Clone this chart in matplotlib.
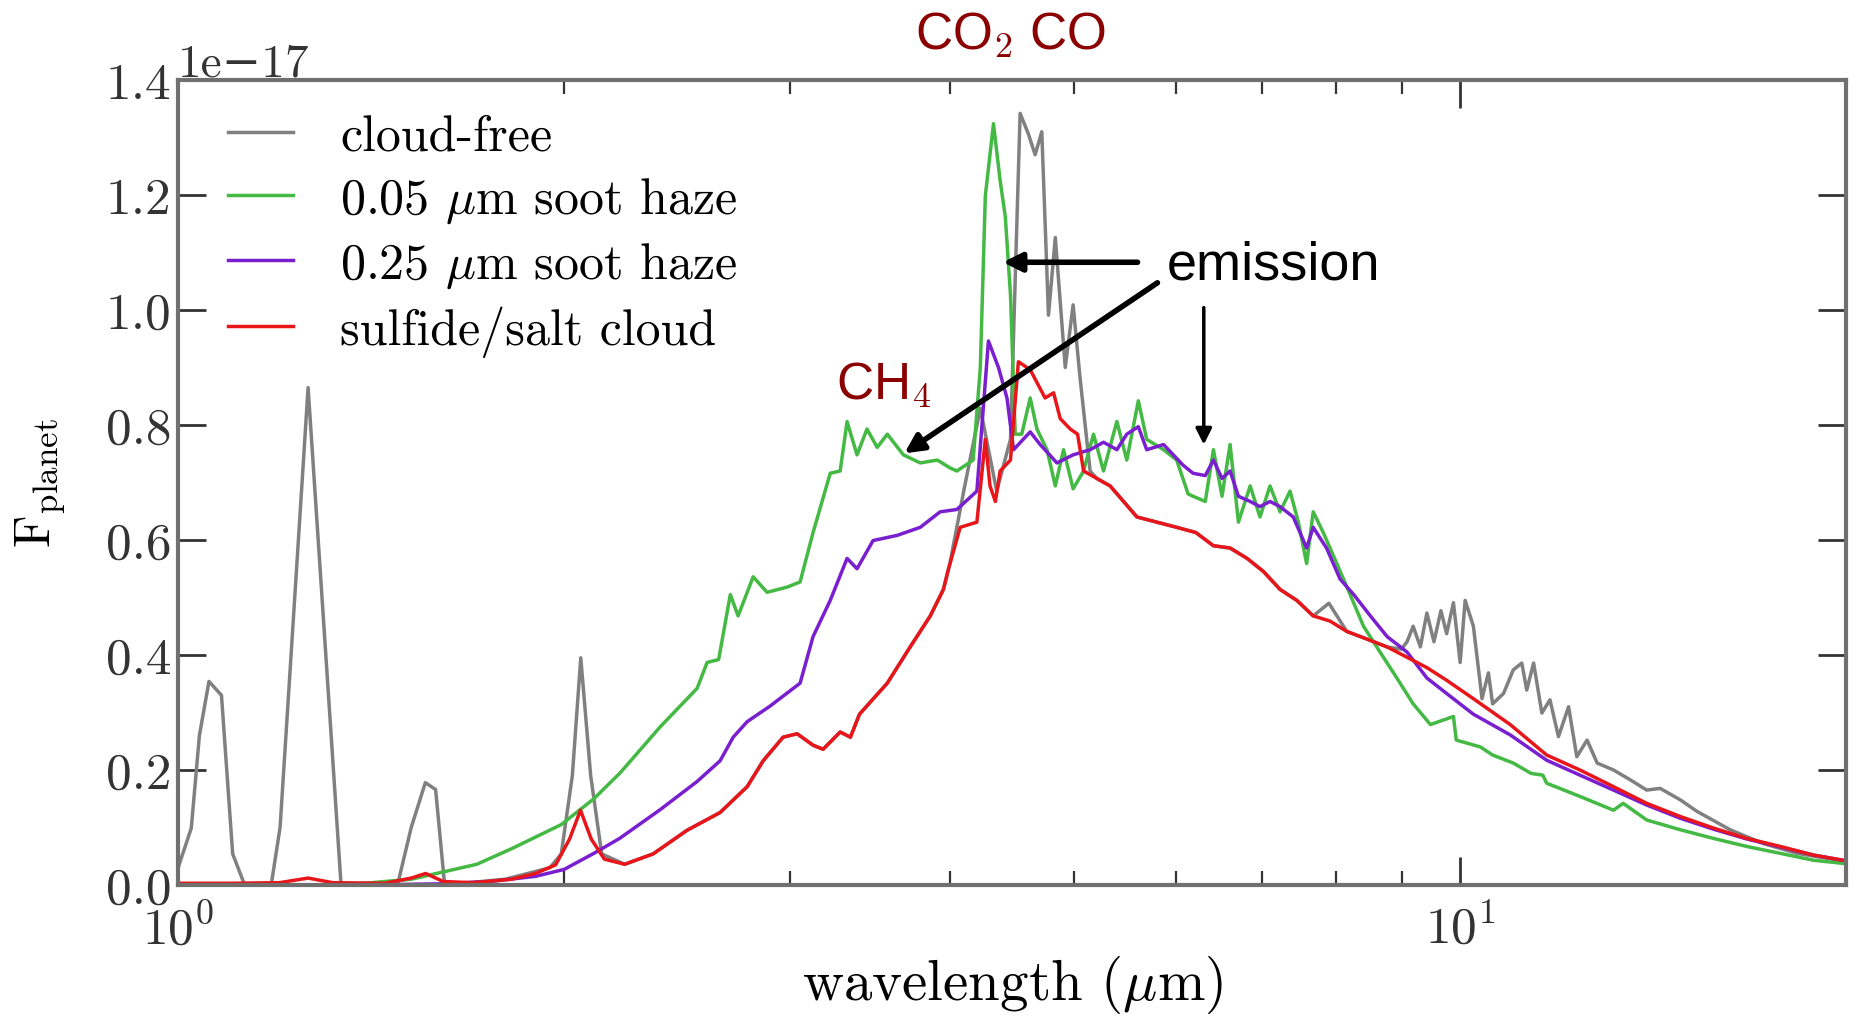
import numpy as np
import matplotlib
matplotlib.use("Agg")
import matplotlib.pyplot as plt
from matplotlib.ticker import NullFormatter

plt.rcParams["font.family"] = ["cmr10", "DejaVu Serif"]
plt.rcParams["mathtext.fontset"] = "cm"

# spectra, flux in units of 1e-17
wl_clear = [1.0, 1.024, 1.039, 1.057, 1.081, 1.103, 1.127, 1.182, 1.201, 1.263,
            1.340, 1.483, 1.520, 1.559, 1.588, 1.614, 1.80, 1.95, 1.99, 2.03,
            2.061, 2.098, 2.14, 2.23, 2.347, 2.494, 2.647, 2.779, 2.86, 2.964,
            3.04, 3.128, 3.185, 3.284, 3.345, 3.40, 3.574, 3.724, 3.861, 3.953,
            4.0, 4.10, 4.224, 4.35, 4.459, 4.537, 4.605, 4.661, 4.717, 4.774,
            4.833, 4.92, 4.99, 5.052, 5.145, 5.207, 5.333, 5.463, 5.596, 5.80,
            6.01, 6.22, 6.42, 6.615, 6.82, 7.025, 7.236, 7.457, 7.68, 7.9,
            8.157, 8.45, 8.77, 9.0, 9.09, 9.19, 9.31, 9.42, 9.54, 9.66,
            9.76, 9.88, 10.0, 10.09, 10.24, 10.4, 10.52, 10.6, 10.81, 11.0,
            11.17, 11.27, 11.41, 11.58, 11.75, 11.93, 12.15, 12.33, 12.56, 12.79,
            13.17, 13.57, 13.98, 14.32, 14.85, 15.30, 16.24, 17.24, 18.31, 20.0]
f_clear = [0.03, 0.099, 0.26, 0.354, 0.33, 0.054, 0.0, 0.0, 0.10, 0.865,
           0.0, 0.0, 0.10, 0.178, 0.166, 0.0, 0.01, 0.03, 0.054, 0.19,
           0.395, 0.19, 0.054, 0.036, 0.054, 0.095, 0.126, 0.171, 0.216, 0.257,
           0.263, 0.243, 0.236, 0.266, 0.257, 0.297, 0.351, 0.414, 0.468, 0.514,
           0.56, 0.685, 0.829, 0.685, 0.775, 1.342, 1.306, 1.27, 1.31, 0.991,
           1.126, 0.90, 1.009, 0.883, 0.72, 0.707, 0.694, 0.667, 0.64, 0.631,
           0.622, 0.613, 0.59, 0.586, 0.568, 0.545, 0.514, 0.495, 0.468, 0.49,
           0.441, 0.428, 0.414, 0.41, 0.423, 0.45, 0.414, 0.473, 0.423, 0.477,
           0.437, 0.491, 0.387, 0.495, 0.45, 0.324, 0.369, 0.315, 0.333, 0.374,
           0.386, 0.339, 0.386, 0.299, 0.322, 0.258, 0.31, 0.223, 0.252, 0.212,
           0.20, 0.183, 0.165, 0.168, 0.148, 0.128, 0.096, 0.072, 0.055, 0.041]

wl_soot05 = [1.0, 1.35, 1.52, 1.71, 1.82, 1.99, 2.11, 2.212, 2.377, 2.54,
             2.586, 2.64, 2.696, 2.734, 2.809, 2.88, 2.985, 3.056, 3.128, 3.226,
             3.284, 3.325, 3.385, 3.446, 3.51, 3.574, 3.679, 3.792, 3.91, 4.003,
             4.05, 4.17, 4.224, 4.262, 4.325, 4.377, 4.418, 4.459, 4.497, 4.55,
             4.62, 4.676, 4.761, 4.833, 4.905, 4.99, 5.085, 5.176, 5.27, 5.398,
             5.495, 5.61, 5.695, 5.87, 6.01, 6.135, 6.19, 6.327, 6.42, 6.52,
             6.615, 6.715, 6.858, 6.98, 7.107, 7.236, 7.367, 7.478, 7.59, 7.68,
             7.82, 8.013, 8.207, 8.406, 8.66, 8.925, 9.19, 9.48, 9.88, 9.93,
             10.37, 10.6, 11.0, 11.36, 11.6, 11.68, 12.4, 13.17, 13.4, 13.98,
             14.85, 15.76, 16.73, 17.77, 18.86, 20.0]
f_soot05 = [0.0, 0.0, 0.01, 0.036, 0.063, 0.105, 0.15, 0.195, 0.275, 0.342,
            0.387, 0.392, 0.505, 0.468, 0.536, 0.509, 0.518, 0.527, 0.613, 0.716,
            0.72, 0.806, 0.748, 0.793, 0.761, 0.784, 0.748, 0.734, 0.739, 0.725,
            0.72, 0.739, 0.90, 1.198, 1.324, 1.225, 1.162, 1.027, 0.784, 0.784,
            0.847, 0.793, 0.757, 0.694, 0.757, 0.689, 0.72, 0.784, 0.72, 0.806,
            0.739, 0.842, 0.775, 0.757, 0.739, 0.68, 0.676, 0.667, 0.757, 0.676,
            0.766, 0.631, 0.694, 0.64, 0.694, 0.649, 0.685, 0.631, 0.559, 0.649,
            0.613, 0.559, 0.505, 0.45, 0.405, 0.36, 0.315, 0.279, 0.293, 0.252,
            0.24, 0.226, 0.212, 0.194, 0.191, 0.177, 0.154, 0.13, 0.142, 0.113,
            0.096, 0.081, 0.067, 0.055, 0.043, 0.037]

wl_soot25 = [1.0, 1.4, 1.6, 1.75, 1.90, 2.0, 2.11, 2.21, 2.377, 2.54,
             2.647, 2.71, 2.779, 2.895, 3.056, 3.128, 3.226, 3.325, 3.385, 3.484,
             3.638, 3.792, 3.93, 4.05, 4.198, 4.286, 4.364, 4.431, 4.484, 4.562,
             4.62, 4.703, 4.847, 4.99, 5.145, 5.27, 5.398, 5.495, 5.61, 5.695,
             5.87, 6.08, 6.19, 6.327, 6.42, 6.52, 6.615, 6.715, 6.858, 6.98,
             7.107, 7.236, 7.41, 7.59, 7.68, 7.866, 8.06, 8.26, 8.51, 8.77,
             9.09, 9.42, 9.76, 10.24, 10.94, 11.68, 12.4, 13.17, 13.98, 14.85,
             15.76, 16.73, 17.77, 18.86, 20.0]
f_soot25 = [0.0, 0.0, 0.002, 0.006, 0.015, 0.027, 0.055, 0.081, 0.131, 0.18,
            0.216, 0.257, 0.284, 0.311, 0.351, 0.432, 0.495, 0.568, 0.55, 0.599,
            0.608, 0.622, 0.649, 0.653, 0.685, 0.946, 0.90, 0.847, 0.757, 0.775,
            0.788, 0.766, 0.734, 0.748, 0.757, 0.77, 0.757, 0.784, 0.797, 0.757,
            0.766, 0.73, 0.716, 0.712, 0.739, 0.707, 0.72, 0.676, 0.667, 0.658,
            0.667, 0.658, 0.64, 0.586, 0.622, 0.586, 0.532, 0.505, 0.468, 0.432,
            0.405, 0.36, 0.333, 0.297, 0.261, 0.217, 0.191, 0.165, 0.139, 0.116,
            0.097, 0.080, 0.066, 0.052, 0.042]

wl_salt = [1.0, 1.1, 1.2, 1.263, 1.32, 1.45, 1.52, 1.56, 1.61, 1.7,
           1.82, 1.9, 1.97, 2.02, 2.06, 2.10, 2.15, 2.23, 2.347, 2.494,
           2.647, 2.779, 2.86, 2.964, 3.04, 3.128, 3.185, 3.284, 3.345, 3.40,
           3.574, 3.724, 3.861, 3.953, 3.99, 4.074, 4.198, 4.262, 4.298, 4.34,
           4.377, 4.459, 4.523, 4.62, 4.676, 4.745, 4.818, 4.876, 4.964, 5.03,
           5.085, 5.207, 5.333, 5.463, 5.596, 5.80, 6.01, 6.22, 6.42, 6.615,
           6.82, 7.025, 7.236, 7.457, 7.68, 7.915, 8.157, 8.45, 8.77, 9.09,
           9.42, 9.76, 10.24, 10.94, 11.68, 12.4, 13.17, 13.98, 14.85, 15.76,
           16.73, 17.77, 18.86, 20.0]
f_salt = [0.003, 0.003, 0.004, 0.012, 0.004, 0.003, 0.012, 0.02, 0.006, 0.004,
          0.01, 0.02, 0.035, 0.08, 0.13, 0.08, 0.045, 0.036, 0.054, 0.095,
          0.126, 0.171, 0.216, 0.257, 0.263, 0.243, 0.236, 0.266, 0.257, 0.297,
          0.351, 0.414, 0.468, 0.514, 0.55, 0.622, 0.631, 0.775, 0.694, 0.667,
          0.72, 0.739, 0.91, 0.896, 0.874, 0.847, 0.856, 0.811, 0.793, 0.784,
          0.72, 0.707, 0.694, 0.667, 0.64, 0.631, 0.622, 0.613, 0.59, 0.586,
          0.568, 0.545, 0.514, 0.495, 0.468, 0.459, 0.441, 0.428, 0.414, 0.396,
          0.378, 0.356, 0.324, 0.279, 0.226, 0.20, 0.171, 0.142, 0.119, 0.099,
          0.081, 0.067, 0.052, 0.042]

labels = ["cloud-free", r"0.05 $\mu$m soot haze", r"0.25 $\mu$m soot haze", "sulfide/salt cloud"]
colors = ["#808080", "#44b944", "#7a1fd0", "#e8161b"]
scale = 1e-17

fig = plt.figure(figsize=(18.61, 10.20), dpi=100)
ax = fig.add_axes([0.0957, 0.1314, 0.8963, 0.7892])

series = [(wl_clear, f_clear), (wl_soot05, f_soot05), (wl_soot25, f_soot25), (wl_salt, f_salt)]
for (wl, fl), lab, col in zip(series, labels, colors):
    ax.plot(wl, np.array(fl) * scale, color=col, lw=2.5, label=lab)

ax.set_xscale("log")
ax.set_xlim(1, 20)
ax.set_ylim(0, 1.4e-17)
ax.xaxis.set_minor_formatter(NullFormatter())

for sp in ax.spines.values():
    sp.set_color("#707070")
    sp.set_linewidth(3)
ax.tick_params(which="both", direction="in", top=True, right=True, colors="#333333", labelsize=37)
ax.tick_params(which="major", length=20, width=2)
ax.tick_params(which="minor", length=10, width=1.6)
ax.tick_params(axis="y", which="major", pad=5)
ax.tick_params(axis="x", which="major", pad=13)
ax.yaxis.get_offset_text().set_fontsize(34)

ax.set_xlabel(r"wavelength ($\mu$m)", fontsize=41, labelpad=0)
ax.set_ylabel(r"$\mathrm{F}_{\mathrm{planet}}$", fontsize=36)
ax.yaxis.set_label_coords(-0.066, 0.5)

ax.legend(loc="upper left", bbox_to_anchor=(0.03, 0.958), frameon=False, fontsize=36,
          handlelength=1.3, handletextpad=0.94, labelspacing=0.31, borderpad=0, borderaxespad=0)

# annotations
sans = "Liberation Sans"
dark_red = "#8b0000"
ax.text(4.457, 1.456e-17, r"CO$_\mathsf{2}$ CO", color=dark_red, family=sans, fontsize=37,
        ha="center", va="baseline", clip_on=False)
ax.text(3.554, 0.847e-17, r"CH$_\mathsf{4}$", color=dark_red, family=sans, fontsize=37,
        ha="center", va="baseline")
ax.text(7.15, 1.054e-17, "emission", color="black", family=sans, fontsize=39,
        ha="center", va="baseline")

ax.annotate("", xy=(4.377, 1.083e-17), xytext=(5.63, 1.083e-17),
            arrowprops=dict(arrowstyle="-|>", color="black", lw=4, mutation_scale=28))
ax.annotate("", xy=(3.67, 0.748e-17), xytext=(5.83, 1.05e-17),
            arrowprops=dict(arrowstyle="-|>", color="black", lw=4, mutation_scale=28))
ax.annotate("", xy=(6.31, 0.761e-17), xytext=(6.31, 1.009e-17),
            arrowprops=dict(arrowstyle="-|>", color="black", lw=2.5, mutation_scale=24))

fig.savefig("out.png", dpi=100)
